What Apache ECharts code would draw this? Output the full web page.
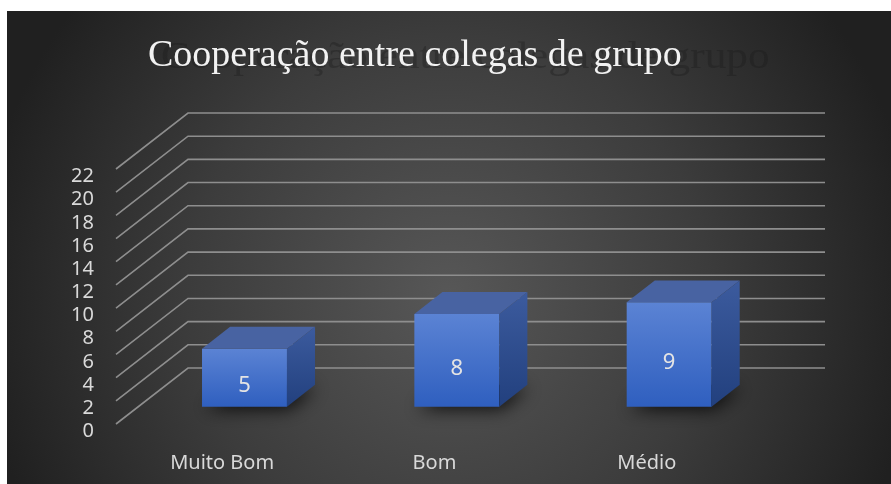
<!DOCTYPE html>
<html>
<head>
<meta charset="utf-8">
<script src="https://cdn.jsdelivr.net/npm/echarts@6/dist/echarts.min.js"></script>
<style>
  html, body { margin: 0; padding: 0; background: #ffffff; }
  #chart { width: 891px; height: 484px; }
</style>
</head>
<body>
<div id="chart"></div>
<script>
// Chart data
const categories = ['Muito Bom', 'Bom', 'Médio'];
const values = [5, 8, 9];
const yTicks = [0, 2, 4, 6, 8, 10, 12, 14, 16, 18, 20, 22];
const titleText = 'Cooperação entre colegas de grupo';

// Oblique projection of the depth axis (front plane -> back wall)
const DX = 72, DY = 56;
// Depth span of each box (fraction of full depth) and its width inside the band
const F1 = 0.31, F2 = 0.70, BAR_RATIO = 0.40;

const chart = echarts.init(document.getElementById('chart'), null, { renderer: 'canvas' });

function renderGridLine(params, api) {
  const cs = params.coordSys;
  const y = api.coord([0, api.value(1)])[1];
  const x0 = cs.x, x1 = cs.x + cs.width;
  return {
    type: 'polyline',
    silent: true,
    shape: { points: [[x0, y], [x0 + DX, y - DY], [x1 + DX, y - DY]] },
    style: { stroke: '#8e8e8e', lineWidth: 1.6, fill: null }
  };
}

function renderBar(params, api) {
  const i = api.value(0), v = api.value(1);
  const base = api.coord([i, 0]);
  const top = api.coord([i, v]);
  const band = api.size([1, 0])[0];
  const w = band * BAR_RATIO;
  const fx0 = base[0] - w / 2 + F1 * DX, fx1 = fx0 + w;
  const fyB = base[1] - F1 * DY, fyT = top[1] - F1 * DY;
  const ddx = (F2 - F1) * DX, ddy = (F2 - F1) * DY;
  return {
    type: 'group',
    children: [
      {
        // soft floor shadow under the box (the footprint itself stays hidden)
        type: 'polygon',
        shape: { points: [[fx0 + 1, fyB - 1], [fx1, fyB - 1], [fx1 + ddx - 1, fyB - ddy], [fx0 + ddx, fyB - ddy]] },
        style: { fill: 'rgba(0,0,0,0.9)', shadowBlur: 18, shadowColor: 'rgba(0,0,0,0.95)', shadowOffsetX: 2, shadowOffsetY: 3 }
      },
      {
        type: 'rect',
        shape: { x: fx0, y: fyT, width: w, height: fyB - fyT },
        style: {
          fill: new echarts.graphic.LinearGradient(0, 0, 0, 1, [
            { offset: 0, color: '#5b83d4' },
            { offset: 1, color: '#2f5fbf' }
          ])
        }
      },
      {
        type: 'polygon',
        shape: { points: [[fx0, fyT], [fx1, fyT], [fx1 + ddx, fyT - ddy], [fx0 + ddx, fyT - ddy]] },
        style: { fill: '#4863a2' }
      },
      {
        type: 'polygon',
        shape: { points: [[fx1, fyT], [fx1 + ddx, fyT - ddy], [fx1 + ddx, fyB - ddy], [fx1, fyB]] },
        style: {
          fill: new echarts.graphic.LinearGradient(0, 0, 0, 1, [
            { offset: 0, color: '#3c5b9e' },
            { offset: 1, color: '#22407e' }
          ])
        }
      },
      {
        type: 'text',
        style: {
          text: String(v),
          x: (fx0 + fx1) / 2,
          y: (fyB + fyT) / 2 + 8,
          align: 'center',
          verticalAlign: 'middle',
          fill: '#e4e4e4',
          font: '22px "Noto Sans", sans-serif'
        }
      }
    ]
  };
}

const option = {
  backgroundColor: '#ffffff',
  animation: false,
  graphic: [
    {
      type: 'rect',
      z: -100,
      silent: true,
      shape: { x: 7, y: 11, width: 884, height: 473 },
      style: {
        fill: new echarts.graphic.RadialGradient(0.5, 0.6, 1.0, [
          { offset: 0, color: '#575757' },
          { offset: 0.55, color: '#3c3c3c' },
          { offset: 1, color: '#202020' }
        ])
      }
    },
    {
      // blurred reflection of the title
      type: 'text',
      z: 50,
      silent: true,
      x: 161,
      y: 58,
      scaleX: 1.14,
      style: {
        text: titleText,
        font: '38px "Liberation Serif", serif',
        fill: 'rgba(25,25,25,0.35)',
        verticalAlign: 'middle',
        shadowBlur: 8,
        shadowColor: 'rgba(15,15,15,0.8)'
      }
    },
    {
      type: 'text',
      z: 60,
      silent: true,
      x: 148,
      y: 56,
      style: {
        text: titleText,
        font: '38px "Liberation Serif", serif',
        fill: '#f2f2f2',
        verticalAlign: 'middle'
      }
    }
  ],
  grid: { left: 116, top: 169, width: 637, height: 255 },
  xAxis: {
    type: 'category',
    data: categories,
    axisLine: { show: false },
    axisTick: { show: false },
    splitLine: { show: false },
    axisLabel: {
      color: '#d9d9d9',
      fontSize: 20,
      fontFamily: 'Noto Sans',
      margin: 29
    }
  },
  yAxis: {
    type: 'value',
    min: 0,
    max: 22,
    interval: 2,
    axisLine: { show: false },
    axisTick: { show: false },
    splitLine: { show: false },
    axisLabel: {
      color: '#d9d9d9',
      fontSize: 20,
      fontFamily: 'Noto Sans',
      margin: 22,
      verticalAlign: 'top',
      lineHeight: 15
    }
  },
  series: [
    {
      type: 'custom',
      name: 'grid',
      clip: false,
      silent: true,
      z: 1,
      renderItem: renderGridLine,
      encode: { x: 0, y: 1 },
      data: yTicks.map(function (t) { return [0, t]; })
    },
    {
      type: 'custom',
      name: 'Cooperação',
      clip: false,
      z: 5,
      renderItem: renderBar,
      encode: { x: 0, y: 1 },
      data: values.map(function (v, i) { return [i, v]; })
    }
  ]
};

chart.setOption(option);
</script>
</body>
</html>
